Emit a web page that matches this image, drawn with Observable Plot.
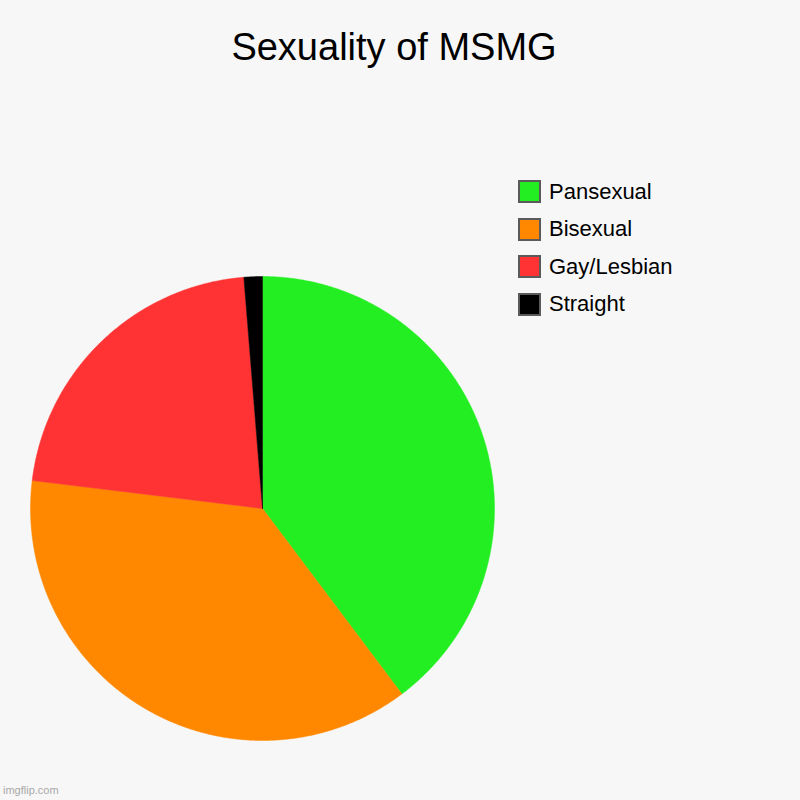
<!DOCTYPE html>
<html>
<head>
<meta charset="utf-8">
<script src="https://cdn.jsdelivr.net/npm/d3@7"></script>
<script src="https://cdn.jsdelivr.net/npm/@observablehq/plot@0.6"></script>
<style>
  html, body { margin: 0; padding: 0; background: #f7f7f7; }
  #wrap { position: relative; width: 800px; height: 800px; background: #f7f7f7; font-family: "Liberation Sans", Arial, sans-serif; overflow: hidden; }
  #title { position: absolute; left: 0; top: 26px; width: 788px; text-align: center; font-size: 38px; color: #000; }
  #chart { position: absolute; left: 0; top: 100px; }
  #legend { position: absolute; left: 518px; top: 173px; }
  .item { display: flex; align-items: center; height: 37.5px; margin: 0; }
  .item .sw { width: 19px; height: 19px; border: 2px solid #5a5a5a; box-sizing: content-box; margin-right: 8px; }
  .item span { font-size: 22px; color: #000; }
  #foot { position: absolute; left: 3px; top: 784px; font-size: 11px; color: #a8a8a8; }
</style>
</head>
<body>
<div id="wrap">
  <div id="title"></div>
  <div id="chart"></div>
  <div id="legend"></div>
  <div id="foot">imgflip.com</div>
</div>
<script>
const titleText = "Sexuality of MSMG";
const categories = ["Pansexual", "Bisexual", "Gay/Lesbian", "Straight"];
const counts = [31, 29, 17, 1];
const colors = ["#22ee22", "#ff8800", "#ff3333", "#000000"];

document.getElementById("title").textContent = titleText;

// legend
const legend = document.getElementById("legend");
categories.forEach((c, i) => {
  const d = document.createElement("div");
  d.className = "item";
  const sw = document.createElement("div");
  sw.className = "sw";
  sw.style.background = colors[i];
  const s = document.createElement("span");
  s.textContent = c;
  d.appendChild(sw); d.appendChild(s);
  legend.appendChild(d);
});

// pie angles from data
const arcs = d3.pie().sort(null).value(d => d.value)(categories.map((c, i) => ({category: c, value: counts[i]})));
const pts = [];
arcs.forEach(a => {
  const cat = a.data.category;
  pts.push({category: cat, x: 0, y: 0});
  const n = Math.max(2, Math.ceil((a.endAngle - a.startAngle) / 0.005));
  for (let k = 0; k <= n; k++) {
    const t = a.startAngle + (a.endAngle - a.startAngle) * k / n;
    pts.push({category: cat, x: Math.sin(t), y: Math.cos(t)});
  }
  pts.push({category: cat, x: 0, y: 0});
});

const cx = 262, cy = 408, r = 232;
const chart = Plot.plot({
  width: 800,
  height: 700,
  margin: 0,
  style: {background: "transparent"},
  x: {domain: [-1, 1], range: [cx - r, cx + r], axis: null},
  y: {domain: [-1, 1], range: [cy + r, cy - r], axis: null},
  color: {domain: categories, range: colors},
  marks: [
    Plot.line(pts, {x: "x", y: "y", z: "category", fill: "category", stroke: "category", strokeWidth: 0.5, curve: "linear"})
  ]
});
document.getElementById("chart").appendChild(chart);
</script>
</body>
</html>
